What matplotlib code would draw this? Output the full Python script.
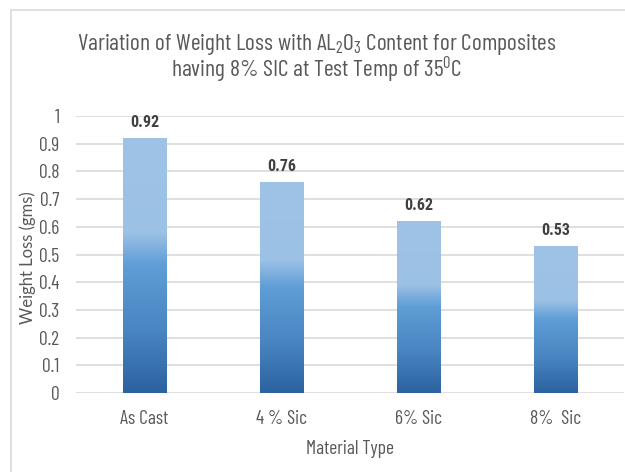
import matplotlib
matplotlib.use("Agg")
import matplotlib.pyplot as plt
import numpy as np
from matplotlib.colors import LinearSegmentedColormap
from matplotlib.patches import Rectangle

categories = ["As Cast", "4 % Sic", "6% Sic", "8%  Sic"]
values = [0.92, 0.76, 0.62, 0.53]
yticks = [0, 0.1, 0.2, 0.3, 0.4, 0.5, 0.6, 0.7, 0.8, 0.9, 1]
ytick_labels = ["0", "0.1", "0.2", "0.3", "0.4", "0.5", "0.6", "0.7", "0.8", "0.9", "1"]

narrow = ["Barlow Condensed", "DejaVu Sans"]
boldnarrow = ["Roboto Condensed", "DejaVu Sans"]
plt.rcParams["mathtext.fontset"] = "custom"
plt.rcParams["mathtext.rm"] = "Barlow Condensed"
plt.rcParams["mathtext.default"] = "rm"

W, H = 625, 472
fig = plt.figure(figsize=(W / 100, H / 100), dpi=100)
fig.patch.set_facecolor("white")

fig.patches.append(Rectangle((11 / W, -0.01), 1.1, 1 - 10 / H + 0.01, transform=fig.transFigure,
                             fill=False, edgecolor="#D9D9D9", linewidth=1.2, zorder=0))

left, right = 76 / W, 624 / W
bottom, top = 1 - 393 / H, 1 - 116 / H
ax = fig.add_axes([left, bottom, right - left, top - bottom])
ax.set_xlim(-0.5, 3.5)
ax.set_ylim(0, 1)

cmap = LinearSegmentedColormap.from_list("bar", [
    (0.0, "#9EC3E6"), (0.37, "#9BC1E5"), (0.50, "#5E9DD6"), (0.75, "#4A86C2"), (1.0, "#2B62A0")])
grad = np.linspace(0, 1, 256).reshape(-1, 1)
bw = 0.314
x = np.arange(len(categories))
bars = ax.bar(x, values, width=bw, color="none", zorder=3)
for b, v in zip(bars, values):
    x0 = b.get_x()
    ax.imshow(grad, cmap=cmap, aspect="auto", extent=(x0, x0 + bw, 0, v), origin="upper",
              zorder=3, interpolation="bilinear")
    ax.text(x0 + bw / 2, v + 0.03, f"{v:.2f}", ha="center", va="bottom",
            fontsize=11.5, fontweight="bold", color="#404040", family=boldnarrow, zorder=4)

ax.set_yticks(yticks)
ax.set_yticklabels(ytick_labels)
ax.set_xticks(x)
ax.set_xticklabels(categories)
ax.grid(axis="y", color="#D9D9D9", linewidth=1.2, zorder=0)
ax.set_axisbelow(True)
for s in ax.spines.values():
    s.set_visible(False)
ax.tick_params(length=0, colors="#595959")
for lab in ax.get_yticklabels() + ax.get_xticklabels():
    lab.set_family(narrow)
    lab.set_fontsize(14)
    lab.set_color("#595959")
ax.tick_params(axis="y", pad=12)
ax.tick_params(axis="x", pad=12)

ax.set_xlabel("Material Type", family=narrow, fontsize=14, color="#595959", labelpad=9)
fig.text(28 / W, 1 - 258 / H, "Weight Loss (gms)", rotation=90, ha="center", va="center",
         fontsize=12, color="#595959", family=["Lato", "DejaVu Sans"])

fig.text(317 / W, 1 - 50 / H, r"Variation of Weight Loss with AL$_2$O$_3$ Content for Composites",
         ha="center", va="baseline", fontsize=17, color="#595959", family=narrow)
fig.text(317 / W, 1 - 77 / H, r"having 8% SIC at Test Temp of 35$^0$C",
         ha="center", va="baseline", fontsize=17, color="#595959", family=narrow)

fig.savefig("out.png", dpi=100)
